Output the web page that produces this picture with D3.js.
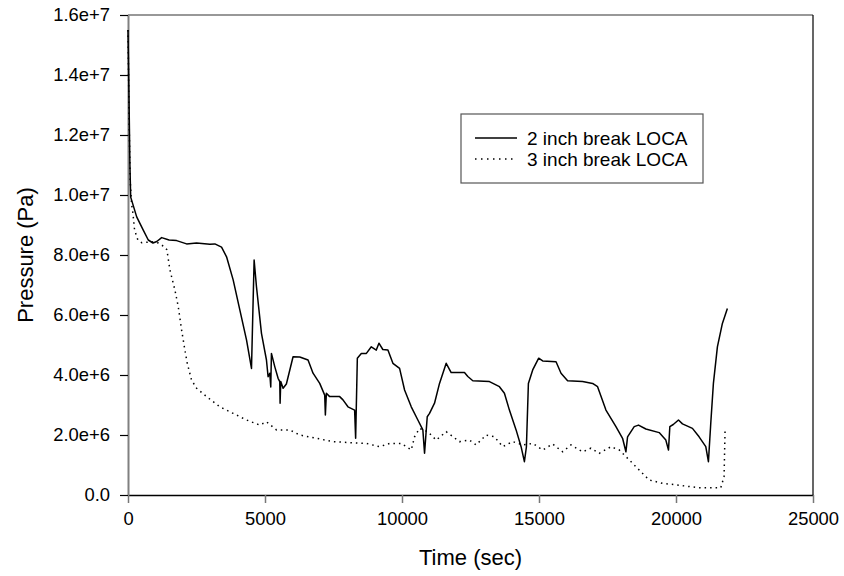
<!DOCTYPE html>
<html>
<head>
<meta charset="utf-8">
<script src="https://cdn.jsdelivr.net/npm/d3@7"></script>
<style>
  body { margin: 0; background: #fff; }
  svg text { font-family: "Liberation Sans", Arial, sans-serif; fill: #000; }
</style>
</head>
<body>
<div id="chart"></div>
<script>
// 2 inch break LOCA: [time (s), pressure (Pa)]
var break2in = [
  [0, 1.55e7], [40, 1.3e7], [70, 1.1e7], [98, 9.93e6], [317, 9.27e6], [557, 8.83e6],
  [740, 8.5e6], [911, 8.4e6], [1050, 8.45e6], [1228, 8.58e6], [1500, 8.5e6], [1775, 8.48e6],
  [2139, 8.37e6], [2500, 8.4e6], [2988, 8.36e6], [3170, 8.37e6], [3414, 8.26e6], [3597, 7.94e6],
  [3838, 7.17e6], [4081, 6.17e6], [4325, 5.17e6], [4507, 4.22e6], [4603, 7.83e6], [4689, 6.94e6],
  [4871, 5.39e6], [5053, 4.5e6], [5113, 3.94e6], [5174, 4.06e6], [5210, 3.6e6], [5235, 4.72e6],
  [5356, 4.28e6], [5478, 3.89e6], [5539, 3.78e6], [5551, 3.06e6], [5575, 3.78e6], [5660, 3.56e6],
  [5780, 3.7e6], [6024, 4.61e6], [6268, 4.6e6], [6571, 4.5e6], [6753, 4.06e6], [6997, 3.72e6],
  [7179, 3.33e6], [7203, 2.67e6], [7240, 3.39e6], [7361, 3.28e6], [7725, 3.28e6], [7846, 3.17e6],
  [8028, 2.94e6], [8271, 2.83e6], [8308, 1.89e6], [8370, 4.56e6], [8515, 4.72e6], [8700, 4.72e6],
  [8880, 4.94e6], [9062, 4.83e6], [9158, 5.06e6], [9300, 4.85e6], [9486, 4.83e6], [9668, 4.39e6],
  [9912, 4.22e6], [10094, 3.5e6], [10338, 2.94e6], [10579, 2.5e6], [10761, 2.17e6], [10823, 1.39e6],
  [10921, 2.61e6], [11005, 2.72e6], [11187, 3.06e6], [11369, 3.72e6], [11613, 4.39e6], [11795, 4.08e6],
  [12280, 4.08e6], [12402, 3.95e6], [12584, 3.81e6], [13192, 3.78e6], [13556, 3.61e6], [13738, 3.39e6],
  [13920, 2.83e6], [14164, 2.17e6], [14346, 1.61e6], [14467, 1.11e6], [14540, 1.6e6], [14613, 3.72e6],
  [14770, 4.17e6], [14989, 4.56e6], [15134, 4.47e6], [15622, 4.44e6], [15804, 4.06e6], [16044, 3.81e6],
  [16591, 3.78e6], [16956, 3.72e6], [17138, 3.61e6], [17443, 2.83e6], [17808, 2.28e6], [18050, 1.89e6],
  [18172, 1.44e6], [18232, 1.94e6], [18475, 2.28e6], [18632, 2.33e6], [18900, 2.2e6], [19386, 2.08e6],
  [19629, 1.83e6], [19726, 1.5e6], [19775, 2.28e6], [19900, 2.35e6], [20090, 2.5e6], [20236, 2.37e6],
  [20600, 2.22e6], [20843, 1.94e6], [21087, 1.61e6], [21183, 1.11e6], [21269, 2.39e6], [21365, 3.72e6],
  [21511, 4.94e6], [21693, 5.72e6], [21875, 6.22e6]
];

// 3 inch break LOCA
var break3in = [
  [0, 1.55e7], [40, 1.25e7], [80, 1.05e7], [130, 9.7e6], [180, 9.39e6], [240, 8.83e6],
  [360, 8.5e6], [500, 8.41e6], [870, 8.44e6], [1110, 8.4e6], [1350, 8.26e6], [1420, 8.17e6],
  [1530, 7.5e6], [1713, 6.83e6], [1834, 6.28e6], [1956, 5.5e6], [2077, 4.83e6], [2162, 4.39e6],
  [2320, 3.83e6], [2503, 3.56e6], [2867, 3.28e6], [3352, 2.94e6], [3838, 2.72e6], [4325, 2.5e6],
  [4810, 2.33e6], [5053, 2.44e6], [5418, 2.17e6], [5903, 2.17e6], [6268, 2.0e6], [6875, 1.89e6],
  [7482, 1.78e6], [8210, 1.74e6], [8698, 1.72e6], [9183, 1.61e6], [9547, 1.72e6], [9973, 1.72e6],
  [10338, 1.5e6], [10458, 1.94e6], [10640, 2.22e6], [10943, 2.11e6], [11248, 1.83e6], [11613, 2.11e6],
  [12098, 1.78e6], [12462, 1.83e6], [12705, 1.67e6], [13070, 2.0e6], [13373, 1.94e6], [13677, 1.61e6],
  [14041, 1.78e6], [14406, 1.67e6], [14770, 1.72e6], [15134, 1.5e6], [15498, 1.7e6], [15863, 1.44e6],
  [16167, 1.67e6], [16591, 1.44e6], [16896, 1.56e6], [17199, 1.39e6], [17625, 1.61e6], [17929, 1.5e6],
  [18293, 1.17e6], [18657, 0.83e6], [19022, 0.5e6], [19507, 0.39e6], [19994, 0.34e6], [20843, 0.24e6],
  [21633, 0.24e6], [21754, 0.61e6], [21791, 2.17e6]
];

var xTicks = [0, 5000, 10000, 15000, 20000, 25000];
var yTicks = [0, 2e6, 4e6, 6e6, 8e6, 1e7, 1.2e7, 1.4e7, 1.6e7];
var seriesNames = ["2 inch break LOCA", "3 inch break LOCA"];

var width = 844, height = 576;
var margin = {left: 128, right: 31, top: 15, bottom: 81};
var plotW = width - margin.left - margin.right;
var plotH = height - margin.top - margin.bottom;

var svg = d3.select("#chart").append("svg")
  .attr("width", width).attr("height", height);

var g = svg.append("g").attr("transform", "translate(" + margin.left + "," + margin.top + ")");

var x = d3.scaleLinear().domain([0, 25000]).range([0, plotW]);
var y = d3.scaleLinear().domain([0, 1.6e7]).range([plotH, 0]);

// frame: top and right
g.append("line").attr("x1", 0).attr("x2", plotW).attr("y1", 0).attr("y2", 0)
  .attr("stroke", "#333").attr("stroke-width", 1.2);
g.append("line").attr("x1", plotW).attr("x2", plotW).attr("y1", 0).attr("y2", plotH)
  .attr("stroke", "#000").attr("stroke-width", 1.2);

var xAxis = g.append("g").attr("transform", "translate(0," + plotH + ")")
  .call(d3.axisBottom(x).tickValues(xTicks).tickSize(8).tickSizeOuter(0).tickPadding(9).tickFormat(d3.format("d")));
xAxis.select(".domain").attr("stroke", "#000").attr("stroke-width", 1.5);
xAxis.selectAll(".tick line").attr("stroke", "#777").attr("stroke-width", 1.5);
xAxis.selectAll("text").attr("font-size", "18.4px").attr("font-family", "Liberation Sans, Arial, sans-serif");

var yAxis = g.append("g")
  .call(d3.axisLeft(y).tickValues(yTicks).tickSize(8).tickSizeOuter(0).tickPadding(10)
    .tickFormat(function(d) { return d === 0 ? "0.0" : d3.format(".1e")(d); }));
yAxis.select(".domain").attr("stroke", "#808080").attr("stroke-width", 2);
yAxis.selectAll(".tick line").attr("stroke", "#000").attr("stroke-width", 1.2);
yAxis.selectAll("text").attr("font-size", "18.4px").attr("font-family", "Liberation Sans, Arial, sans-serif");

var line = d3.line().x(function(d) { return x(d[0]); }).y(function(d) { return y(d[1]); });

g.append("path").datum(break3in).attr("d", line)
  .attr("fill", "none").attr("stroke", "#000").attr("stroke-width", 1.5)
  .attr("stroke-dasharray", "1.5,4");

g.append("path").datum(break2in).attr("d", line)
  .attr("fill", "none").attr("stroke", "#000").attr("stroke-width", 1.5)
  .attr("stroke-linejoin", "round");

// axis titles
svg.append("text").attr("x", margin.left + plotW / 2).attr("y", 565)
  .attr("text-anchor", "middle").attr("font-size", "22px").text("Time (sec)");
svg.append("text").attr("transform", "translate(33," + (margin.top + plotH / 2) + ") rotate(-90)")
  .attr("text-anchor", "middle").attr("font-size", "22px").text("Pressure (Pa)");

// legend
var legend = svg.append("g").attr("transform", "translate(461,114)");
legend.append("rect").attr("width", 242).attr("height", 69)
  .attr("fill", "#fff").attr("stroke", "#555").attr("stroke-width", 1.2);
seriesNames.forEach(function(name, i) {
  var ly = 24 + i * 21;
  legend.append("line").attr("x1", 14).attr("x2", 56).attr("y1", ly).attr("y2", ly)
    .attr("stroke", "#000").attr("stroke-width", 1.5)
    .attr("stroke-dasharray", i === 1 ? "1.5,4.5" : null);
  legend.append("text").attr("x", 66).attr("y", ly + 7).attr("font-size", "19px").text(name);
});
</script>
</body>
</html>
